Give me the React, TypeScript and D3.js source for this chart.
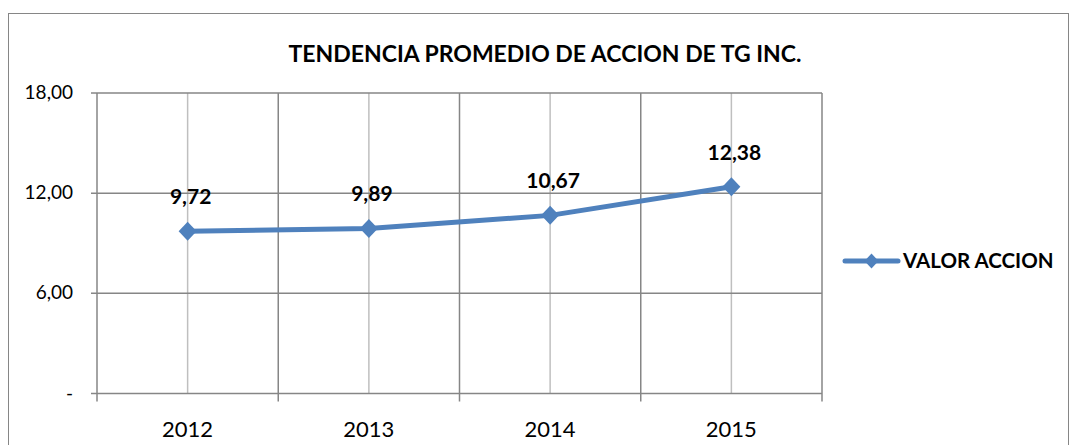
import React from "react";
import * as d3 from "d3";

const categories = ["2012", "2013", "2014", "2015"];
const values = [9.72, 9.89, 10.67, 12.38];
const yTicks = [0, 6, 12, 18];
const seriesName = "VALOR ACCION";
const title = "TENDENCIA PROMEDIO DE ACCION DE TG INC.";

const W = 1070;
const H = 445;
const plot = { left: 97, right: 822, top: 93, bottom: 393.5 };
const FONT = "Lato, 'Open Sans', sans-serif";
const BLUE = "#4F81BD";
const DARK = "#868686";
const LIGHT = "#BFBFBF";

const fmt = (v: number) => (v === 0 ? "-" : d3.format(".2f")(v).replace(".", ","));

export default function App() {
  const x = d3.scaleBand().domain(categories).range([plot.left, plot.right]).padding(0);
  const y = d3.scaleLinear().domain([0, 18]).range([plot.bottom, plot.top]);
  const cx = (c: string) => (x(c) as number) + x.bandwidth() / 2;
  const line = d3
    .line<number>()
    .x((_, i) => cx(categories[i]))
    .y((d) => y(d));
  const boundaries = categories.map((c) => x(c) as number).concat([plot.right]);
  const diamond = (px: number, py: number, rx: number, ry: number) =>
    `M${px},${py - ry}L${px + rx},${py}L${px},${py + ry}L${px - rx},${py}Z`;

  return (
    <svg
      width={W}
      height={H}
      style={{ position: "absolute", left: 0, top: 0, background: "#fff" }}
      fontFamily={FONT}
    >
      <rect x={8.5} y={13.5} width={1060} height={440} fill="#fff" stroke={DARK} strokeWidth={1} />
      <text x={545} y={62} textAnchor="middle" fontWeight="bold" fontSize={23} fill="#000">
        {title}
      </text>
      {/* vertical gridlines at category centers */}
      {categories.map((c) => (
        <line key={"vc" + c} x1={cx(c)} x2={cx(c)} y1={plot.top} y2={plot.bottom} stroke={LIGHT} strokeWidth={1.5} />
      ))}
      {/* horizontal gridlines */}
      {yTicks.map((t) => (
        <line key={"h" + t} x1={plot.left - 6} x2={plot.right} y1={y(t)} y2={y(t)} stroke={DARK} strokeWidth={1.5} />
      ))}
      {/* vertical boundary lines */}
      {boundaries.map((b, i) => (
        <line key={"vb" + i} x1={b} x2={b} y1={plot.top} y2={plot.bottom + 8} stroke={DARK} strokeWidth={1.5} />
      ))}
      {yTicks.map((t) => (
        <text key={"yl" + t} x={73} y={y(t) + 6} textAnchor="end" fontSize={19} fill="#000">
          {fmt(t)}
        </text>
      ))}
      {categories.map((c) => (
        <text key={"xl" + c} x={cx(c)} y={437} textAnchor="middle" fontSize={22} fill="#000">
          {c}
        </text>
      ))}
      <path d={line(values) || ""} fill="none" stroke={BLUE} strokeWidth={5} strokeLinejoin="round" />
      {values.map((v, i) => (
        <path key={"m" + i} d={diamond(cx(categories[i]), y(v), 9, 9.5)} fill={BLUE} />
      ))}
      {values.map((v, i) => (
        <text key={"dl" + i} x={cx(categories[i]) + 3} y={y(v) - 27} textAnchor="middle" fontWeight="bold" fontSize={21} fill="#000">
          {fmt(v)}
        </text>
      ))}
      <line x1={845} x2={898} y1={261} y2={261} stroke={BLUE} strokeWidth={5} strokeLinecap="round" />
      <path d={diamond(871.5, 261, 7, 7.5)} fill={BLUE} />
      <text x={903} y={268} fontWeight="bold" fontSize={20.5} fill="#000">
        {seriesName}
      </text>
    </svg>
  );
}
